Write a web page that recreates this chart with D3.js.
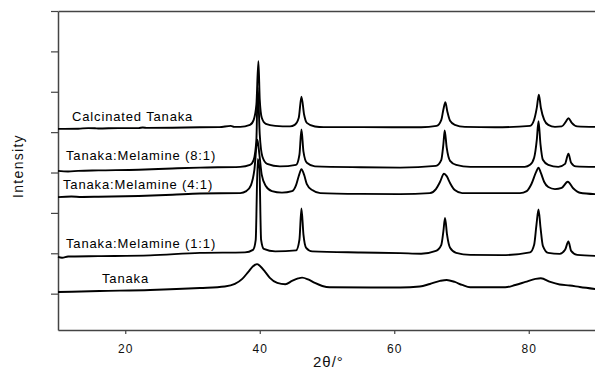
<!DOCTYPE html>
<html>
<head>
<meta charset="utf-8">
<script src="https://cdn.jsdelivr.net/npm/d3@7"></script>
<style>
  html, body { margin: 0; padding: 0; background: #fff; }
  svg { display: block; font-family: "Liberation Sans", Arial, sans-serif; }
</style>
</head>
<body>
<svg id="chart" width="595" height="369"></svg>
<script>
// ---- data ----
const xTicks = [20, 40, 60, 80];
const yTicks = [1000, 2000, 3000, 4000, 5000, 6000, 7000, 8000];
const seriesNames = ["Calcinated Tanaka", "Tanaka:Melamine (8:1)", "Tanaka:Melamine (4:1)", "Tanaka:Melamine (1:1)", "Tanaka"];
const offsets = [5080, 4040, 3390, 1910, 1040];

// [2θ (°), intensity above offset (counts)]
const calcinated = [
  [10,0],[13,5],[14.5,20],[15.5,15],[16,10],[19,20],[22,20],[22.6,35],[23.3,25],[27,30],[31.1,42],[34,45],[35.7,75],[36.2,50],[37.1,50],
  [38.55,100],[39.1,225],[39.5,600],[39.8,1675],[40.0,725],[40.3,275],[40.9,125],[42.3,75],[44.5,62],
  [45.2,100],[45.8,275],[46.2,800],[46.6,350],[47.0,150],[48.2,60],[49.5,45],[55,45],[60.9,42],[64,40],
  [66.3,75],[67.0,225],[67.3,475],[67.6,660],[67.9,425],[68.3,200],[69.0,100],[70.5,50],[75,40],
  [80.2,75],[80.8,225],[81.2,525],[81.5,850],[81.8,525],[82.3,225],[82.9,100],[83.9,50],[84.9,62],
  [85.5,175],[85.9,265],[86.4,150],[87.2,62],[89.9,50]
];
const ratio8 = [
  [10,0],[11.5,-15],[13,0],[16,12],[22,30],[27,60],[31.1,82],[37.1,100],
  [38.55,150],[39.1,275],[39.5,775],[39.7,2075],[40.0,900],[40.4,350],[41.1,175],[43.0,112],
  [45.4,150],[45.9,400],[46.2,1025],[46.5,475],[47.0,200],[48.2,112],[55,90],[60.9,82],
  [66.2,125],[67.0,275],[67.3,650],[67.5,1000],[67.8,575],[68.3,250],[69.2,150],[71.3,100],[79.4,100],
  [80.2,150],[80.8,325],[81.2,775],[81.45,1232],[81.75,650],[82.1,275],[82.9,150],[84.4,100],
  [85.4,175],[85.9,425],[86.3,200],[87.0,112],[89.9,100]
];
const ratio4 = [
  [10,0],[12,15],[13.5,5],[16,10],[22,30],[27,60],[31.1,92],[37.1,100],
  [38.0,150],[38.7,300],[39.2,675],[39.65,1425],[39.95,1050],[40.3,550],[40.9,275],[41.8,150],[43.3,112],
  [44.8,150],[45.4,300],[45.8,525],[46.2,692],[46.6,550],[47.0,325],[47.8,175],[49.0,100],[55,80],[60.9,75],
  [65.3,100],[66.2,200],[66.8,375],[67.4,580],[67.8,520],[68.3,350],[69.0,175],[70.1,100],[78.7,100],
  [79.7,150],[80.4,325],[81.1,625],[81.45,732],[81.8,600],[82.3,375],[82.9,250],[83.9,200],[84.9,230],
  [85.8,380],[86.6,220],[87.6,110],[89.9,75]
];
const ratio1 = [
  [10,0],[10.6,-20],[11.5,10],[12,12],[16,20],[23.7,37],[31.1,100],[37.8,112],
  [39.0,175],[39.4,425],[39.7,2425],[39.95,2175],[40.2,425],[40.6,200],[42.3,137],
  [45.4,162],[45.9,425],[46.2,1200],[46.5,550],[46.9,225],[47.8,137],[55,110],[60.9,95],[64,80],
  [66.2,150],[67.0,300],[67.3,625],[67.55,967],[67.85,550],[68.3,225],[69.2,100],[71.3,50],[76,45],
  [80.2,112],[80.8,300],[81.15,800],[81.45,1175],[81.75,725],[82.1,275],[82.9,100],[84.6,75],
  [85.4,175],[85.9,382],[86.3,150],[87.2,50],[89.9,25]
];
const tanaka = [
  [10,0],[16.2,25],[23.7,50],[31.1,100],[34.8,137],[36.3,200],[37.4,325],[38.3,500],[39.0,637],[39.6,692],
  [40.0,650],[40.8,500],[41.5,350],[42.6,225],[43.8,192],[44.8,275],[45.7,337],[46.3,357],[47.2,312],
  [48.2,225],[49.3,150],[50.4,117],[60.9,112],[63.8,137],[65.3,200],[66.8,275],[67.8,300],[69.0,250],
  [70.1,175],[71.3,117],[76.5,117],[78.0,175],[79.5,250],[81.0,325],[81.8,342],[83.2,250],[84.6,187],
  [86.1,162],[87.6,125],[89.9,75]
];
const seriesData = [calcinated, ratio8, ratio4, ratio1, tanaka];

// ---- layout ----
const plotLeft = 58, plotRight = 596, plotTop = 11, plotBottom = 330;
const svg = d3.select("#chart");

const x = d3.scaleLinear().domain([10, 90]).range([plotLeft, plotRight]);
const y = d3.scaleLinear().domain([100, 8000]).range([plotBottom, plotTop]);

const axisColor = "#444";

// x axis
const gx = svg.append("g").attr("transform", `translate(0,${plotBottom})`)
  .call(d3.axisBottom(x).tickValues(xTicks).tickSize(4).tickSizeOuter(0).tickPadding(10).tickFormat(d3.format("d")));
gx.select(".domain").attr("stroke", axisColor).attr("stroke-width", 1.5);
gx.selectAll(".tick line").attr("stroke", axisColor).attr("stroke-width", 1.2);
gx.selectAll(".tick text").attr("font-size", 12).attr("fill", "#111").style("letter-spacing", "1px")
  .attr("font-family", "Liberation Sans, Arial, sans-serif");

// y axis
const gy = svg.append("g").attr("transform", `translate(${plotLeft},0)`)
  .call(d3.axisLeft(y).tickValues(yTicks).tickSize(7).tickSizeOuter(0).tickFormat(""));
gy.select(".domain").attr("stroke", axisColor).attr("stroke-width", 1.5);
gy.selectAll(".tick line").attr("stroke", axisColor).attr("stroke-width", 1.2);

// top frame line
const gt = svg.append("g").attr("transform", `translate(0,${y(8000)})`)
  .call(d3.axisTop(x).tickValues([]).tickSizeOuter(0));
gt.select(".domain").attr("stroke", axisColor).attr("stroke-width", 1.5);

// series
const line = d3.line().x(d => x(d[0])).curve(d3.curveMonotoneX);
seriesData.forEach((data, i) => {
  svg.append("path")
    .datum(data)
    .attr("fill", "none")
    .attr("stroke", "#000")
    .attr("stroke-width", 1.9)
    .attr("stroke-linejoin", "round")
    .attr("d", line.y(d => y(offsets[i] + d[1])));
});

// series labels
const labelPos = [[72, 121], [66, 160], [63, 189], [66, 248], [102, 283]];
seriesNames.forEach((name, i) => {
  svg.append("text")
    .attr("x", labelPos[i][0]).attr("y", labelPos[i][1])
    .attr("font-size", 13).attr("fill", "#000")
    .style("letter-spacing", "0.85px")
    .text(name);
});

// axis titles
svg.append("text")
  .attr("transform", "translate(23,166) rotate(-90)")
  .attr("text-anchor", "middle")
  .attr("font-size", 14).attr("fill", "#111")
  .style("letter-spacing", "1.3px")
  .text("Intensity");

svg.append("text")
  .attr("x", 313).attr("y", 367)
  .attr("font-size", 15).attr("fill", "#111")
  .style("letter-spacing", "1px")
  .text("2θ/°");
</script>
</body>
</html>
